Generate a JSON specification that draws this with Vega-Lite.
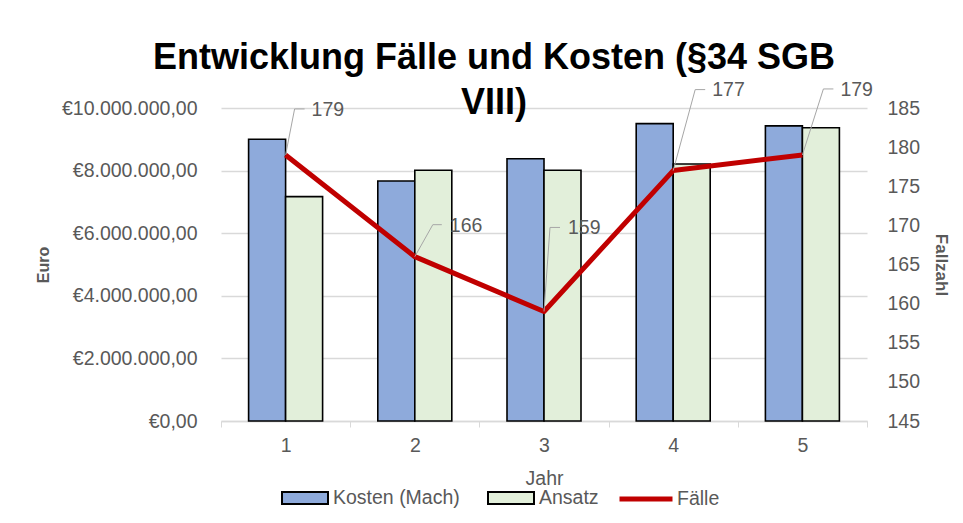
{
  "$schema": "https://vega.github.io/schema/vega-lite/v6.json",
  "width": 646,
  "height": 313,
  "autosize": {"type": "none"},
  "padding": {"left": 221, "top": 108, "right": 96, "bottom": 102},
  "background": "#ffffff",
  "config": {
    "locale": {"number": {"decimal": ",", "thousands": ".", "grouping": [3], "currency": ["€", ""]}},
    "font": "Liberation Sans",
    "view": {"stroke": null},
    "axis": {"labelFont": "Liberation Sans", "titleFont": "Liberation Sans", "labelColor": "#595959", "titleColor": "#595959", "labelFontSize": 19.5}
  },
  "title": {
    "text": ["Entwicklung Fälle und Kosten (§34 SGB", "VIII)"],
    "font": "Liberation Sans",
    "fontSize": 36,
    "fontWeight": "bold",
    "color": "#000000",
    "lineHeight": 45,
    "anchor": "middle",
    "frame": "group",
    "dx": -50,
    "baseline": "bottom",
    "offset": -78
  },
  "data": {
    "values": [
      {"Jahr": 1, "Kosten": 9000000, "Ansatz": 7170000, "Faelle": 179},
      {"Jahr": 2, "Kosten": 7670000, "Ansatz": 8010000, "Faelle": 166},
      {"Jahr": 3, "Kosten": 8380000, "Ansatz": 8010000, "Faelle": 159},
      {"Jahr": 4, "Kosten": 9500000, "Ansatz": 8210000, "Faelle": 177},
      {"Jahr": 5, "Kosten": 9430000, "Ansatz": 9370000, "Faelle": 179}
    ]
  },
  "encoding": {
    "x": {
      "field": "Jahr",
      "type": "ordinal",
      "scale": {"paddingInner": 0, "paddingOuter": 0},
      "axis": {
        "title": "Jahr",
        "titleFontWeight": "normal",
        "titleFontSize": 19.5,
        "titlePadding": 15,
        "labelAngle": 0,
        "labelPadding": 9,
        "tickBand": "extent",
        "tickSize": 6,
        "tickColor": "#d9d9d9",
        "domainColor": "#d9d9d9",
        "domainWidth": 1.3,
        "grid": false
      }
    }
  },
  "layer": [
    {
      "layer": [
        {
          "mark": {"type": "bar", "width": 37, "xOffset": -18.5, "stroke": "#000000", "strokeWidth": 1.6},
          "encoding": {
            "y": {
              "field": "Kosten",
              "type": "quantitative",
              "scale": {"domain": [0, 10000000]},
              "axis": {
                "title": "Euro",
                "titleFontWeight": "bold",
                "titleFontSize": 16,
                "titlePadding": 10,
                "format": "$,.2f",
                "values": [0, 2000000, 4000000, 6000000, 8000000, 10000000],
                "labelPadding": 24,
                "ticks": false,
                "domain": false,
                "grid": true,
                "gridColor": "#d9d9d9",
                "gridWidth": 1.3
              }
            },
            "fill": {
              "datum": "Kosten (Mach)",
              "type": "nominal",
              "scale": {"domain": ["Kosten (Mach)", "Ansatz"], "range": ["#8eaadb", "#e2efda"]},
              "legend": {
                "title": null,
                "orient": "none",
                "direction": "horizontal",
                "legendX": 60,
                "legendY": 366,
                "labelFont": "Liberation Sans",
                "labelFontSize": 19.5,
                "labelColor": "#595959",
                "labelOffset": 4,
                "columnPadding": 24,
                "symbolSize": 2116,
                "symbolType": "M-1,-0.26H1V0.26H-1Z",
                "symbolStrokeColor": "#000000",
                "symbolStrokeWidth": 2,
                "symbolOpacity": 1
              }
            }
          }
        },
        {
          "mark": {"type": "bar", "width": 37, "xOffset": 18.5, "stroke": "#000000", "strokeWidth": 1.6},
          "encoding": {
            "y": {"field": "Ansatz", "type": "quantitative", "scale": {"domain": [0, 10000000]}},
            "fill": {"datum": "Ansatz", "type": "nominal"}
          }
        }
      ]
    },
    {
      "encoding": {
        "y": {
          "field": "Faelle",
          "type": "quantitative",
          "scale": {"domain": [145, 185]},
          "axis": {
            "orient": "right",
            "title": "Fallzahl",
            "titleFontWeight": "bold",
            "titleFontSize": 17,
            "titlePadding": 12,
            "values": [145, 150, 155, 160, 165, 170, 175, 180, 185],
            "labelPadding": 20,
            "ticks": false,
            "domain": false,
            "grid": false
          }
        }
      },
      "layer": [
        {
          "mark": {"type": "line", "strokeWidth": 5, "strokeJoin": "round"},
          "encoding": {
            "stroke": {
              "datum": "Fälle",
              "type": "nominal",
              "scale": {"domain": ["Fälle"], "range": ["#c00000"]},
              "legend": {
                "title": null,
                "orient": "none",
                "direction": "horizontal",
                "legendX": 396,
                "legendY": 362,
                "labelFont": "Liberation Sans",
                "labelFontSize": 19.5,
                "labelColor": "#595959",
                "labelOffset": 2,
                "symbolSize": 2809,
                "symbolType": "stroke",
                "symbolStrokeWidth": 5
              }
            }
          }
        },
        {
          "transform": [{"filter": "datum.Jahr == 1"}],
          "layer": [
            {"mark": {"type": "rule", "color": "#a6a6a6", "strokeWidth": 1, "x2Offset": 9, "y2Offset": -46}, "encoding": {"x2": {"field": "Jahr"}, "y2": {"field": "Faelle"}}},
            {"mark": {"type": "rule", "color": "#a6a6a6", "strokeWidth": 1, "xOffset": 9, "x2Offset": 19, "yOffset": -46, "y2Offset": -46}, "encoding": {"x2": {"field": "Jahr"}, "y2": {"field": "Faelle"}}},
            {"mark": {"type": "text", "align": "left", "baseline": "middle", "dx": 26, "dy": -45, "fontSize": 19.5, "color": "#595959"}, "encoding": {"text": {"field": "Faelle"}}}
          ]
        },
        {
          "transform": [{"filter": "datum.Jahr == 2"}],
          "layer": [
            {"mark": {"type": "rule", "color": "#a6a6a6", "strokeWidth": 1, "x2Offset": 18, "y2Offset": -32}, "encoding": {"x2": {"field": "Jahr"}, "y2": {"field": "Faelle"}}},
            {"mark": {"type": "rule", "color": "#a6a6a6", "strokeWidth": 1, "xOffset": 18, "x2Offset": 27, "yOffset": -32, "y2Offset": -32}, "encoding": {"x2": {"field": "Jahr"}, "y2": {"field": "Faelle"}}},
            {"mark": {"type": "text", "align": "left", "baseline": "middle", "dx": 35, "dy": -31, "fontSize": 19.5, "color": "#595959"}, "encoding": {"text": {"field": "Faelle"}}}
          ]
        },
        {
          "transform": [{"filter": "datum.Jahr == 3"}],
          "layer": [
            {"mark": {"type": "rule", "color": "#a6a6a6", "strokeWidth": 1, "x2Offset": 6, "y2Offset": -84}, "encoding": {"x2": {"field": "Jahr"}, "y2": {"field": "Faelle"}}},
            {"mark": {"type": "rule", "color": "#a6a6a6", "strokeWidth": 1, "xOffset": 6, "x2Offset": 16, "yOffset": -84, "y2Offset": -84}, "encoding": {"x2": {"field": "Jahr"}, "y2": {"field": "Faelle"}}},
            {"mark": {"type": "text", "align": "left", "baseline": "middle", "dx": 24, "dy": -83, "fontSize": 19.5, "color": "#595959"}, "encoding": {"text": {"field": "Faelle"}}}
          ]
        },
        {
          "transform": [{"filter": "datum.Jahr == 4"}],
          "layer": [
            {"mark": {"type": "rule", "color": "#a6a6a6", "strokeWidth": 1, "x2Offset": 22, "y2Offset": -81}, "encoding": {"x2": {"field": "Jahr"}, "y2": {"field": "Faelle"}}},
            {"mark": {"type": "rule", "color": "#a6a6a6", "strokeWidth": 1, "xOffset": 22, "x2Offset": 32, "yOffset": -81, "y2Offset": -81}, "encoding": {"x2": {"field": "Jahr"}, "y2": {"field": "Faelle"}}},
            {"mark": {"type": "text", "align": "left", "baseline": "middle", "dx": 39, "dy": -81, "fontSize": 19.5, "color": "#595959"}, "encoding": {"text": {"field": "Faelle"}}}
          ]
        },
        {
          "transform": [{"filter": "datum.Jahr == 5"}],
          "layer": [
            {"mark": {"type": "rule", "color": "#a6a6a6", "strokeWidth": 1, "x2Offset": 21, "y2Offset": -66}, "encoding": {"x2": {"field": "Jahr"}, "y2": {"field": "Faelle"}}},
            {"mark": {"type": "rule", "color": "#a6a6a6", "strokeWidth": 1, "xOffset": 21, "x2Offset": 31, "yOffset": -66, "y2Offset": -66}, "encoding": {"x2": {"field": "Jahr"}, "y2": {"field": "Faelle"}}},
            {"mark": {"type": "text", "align": "left", "baseline": "middle", "dx": 38, "dy": -65, "fontSize": 19.5, "color": "#595959"}, "encoding": {"text": {"field": "Faelle"}}}
          ]
        }
      ]
    }
  ],
  "resolve": {"scale": {"y": "independent"}}
}
